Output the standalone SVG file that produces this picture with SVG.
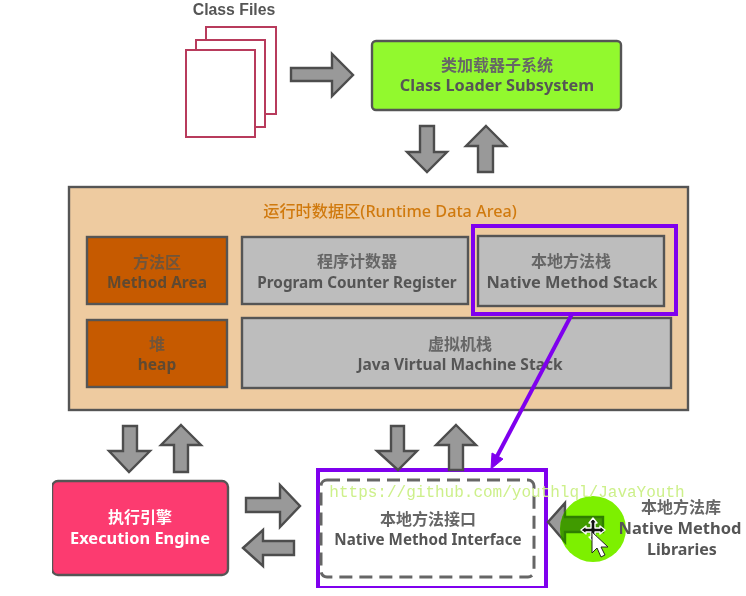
<svg xmlns="http://www.w3.org/2000/svg" width="746" height="596" viewBox="0 0 746 596">
<defs>
<filter id="soft" x="0" y="0" width="100%" height="100%"><feGaussianBlur stdDeviation="0.5"/></filter>
<clipPath id="disc"><circle cx="593" cy="529" r="33"/></clipPath>
</defs>
<style>
text{font-family:"Noto Sans","Noto Sans CJK SC",sans-serif;text-anchor:middle;font-weight:700;font-size:15.5px;fill:#555}
.cn{font-family:"Noto Sans CJK SC",sans-serif;font-size:16px;font-weight:700;fill:#666}
.arr{fill:#999;stroke:#4d4d4d;stroke-width:2.4;stroke-linejoin:miter}
.box{stroke:#555;stroke-width:2.4}
.gray{fill:#bdbdbd}
.rust{fill:#c65a00}
.page{fill:#fff;stroke:#b83a5c;stroke-width:2}
.hl{fill:none;stroke:#7f00ee;stroke-width:4}
</style>
<rect width="746" height="596" fill="#fff"/>
<g filter="url(#soft)">
<g id="class-files">
<text x="234" y="15" style="font-family:'Liberation Sans',sans-serif;font-size:15.8px">Class Files</text>
<rect class="page" x="206" y="27" width="70" height="87"/>
<rect class="page" x="196" y="40" width="69" height="87"/>
<rect class="page" x="186" y="50" width="69" height="87"/>
</g>
<g id="class-loader">
<rect class="box" x="372" y="41" width="249" height="69" rx="4" fill="#92f92f"/>
<text class="cn" x="497" y="71">类加载器子系统</text>
<text x="497" y="91" style="font-size:16.3px">Class Loader Subsystem</text>
</g>
<g id="runtime-data-area">
<rect class="box" x="69" y="187" width="619" height="223" fill="#eecba0"/>
<text x="390" y="217" style="fill:#d07a10;font-weight:500;font-size:16.2px">运行时数据区(Runtime Data Area)</text>
</g>
<g id="method-area">
<rect class="box rust" x="87" y="237" width="140" height="67"/>
<text class="cn" x="157" y="268" style="fill:#70543a">方法区</text>
<text x="157" y="288" style="fill:#5f4a30">Method Area</text>
</g>
<g id="heap">
<rect class="box rust" x="87" y="320" width="140" height="67"/>
<text class="cn" x="157" y="350" style="fill:#70543a">堆</text>
<text x="157" y="370" style="fill:#5f4a30">heap</text>
</g>
<g id="program-counter">
<rect class="box gray" x="242" y="237" width="226" height="67"/>
<text class="cn" x="357" y="267">程序计数器</text>
<text x="357" y="288" style="font-size:15.3px">Program Counter Register</text>
</g>
<g id="native-method-stack">
<rect class="box gray" x="478" y="236" width="186" height="70"/>
<text class="cn" x="571" y="267">本地方法栈</text>
<text x="572" y="288" style="font-size:16.4px">Native Method Stack</text>
<rect class="hl" x="473" y="226" width="203" height="88"/>
</g>
<g id="jvm-stack">
<rect class="box gray" x="242" y="318" width="429" height="70"/>
<text class="cn" x="460" y="350">虚拟机栈</text>
<text x="460" y="370">Java Virtual Machine Stack</text>
</g>
<g id="execution-engine">
<rect class="box" x="52" y="481" width="176" height="94" rx="6" fill="#fc3a6f"/>
<text class="cn" x="140" y="523" style="fill:#fff">执行引擎</text>
<text x="140" y="544" style="fill:#fff;font-size:16.4px">Execution Engine</text>
</g>
<g id="native-interface">
<rect x="318" y="470" width="228" height="118" fill="#fff" stroke="#7f00ee" stroke-width="4"/>
<rect x="321" y="480" width="213" height="97" rx="6" fill="none" stroke="#666" stroke-width="3" stroke-dasharray="13 7"/>
<text class="cn" x="428" y="525">本地方法接口</text>
<text x="428" y="545" style="font-size:15.2px">Native Method Interface</text>
</g>
<g id="connectors">
<path class="arr" d="M291 68H332V54L353 75L332 96V81H291Z"/>
<path class="arr" d="M420 126H434V152H447L427 172L407 152H420Z"/>
<path class="arr" d="M486 126L506 146H493V172H478V146H466Z"/>
<path class="arr" d="M123 426H137V451H150L129 472L109 451H123Z"/>
<path class="arr" d="M181 425L201 445H188V472H174V445H161Z"/>
<path class="arr" d="M246 498H280V485L300 506L280 527V512H246Z"/>
<path class="arr" d="M243 548L263 530V541H294V555H263V566Z"/>
<path class="arr" d="M391 426H404V451H417L398 470L377 451H391Z"/>
<path class="arr" d="M456 425L476 445H463V470H449V445H436Z"/>
<path d="M572 314L494 462" fill="none" stroke="#7f00ee" stroke-width="4"/>
<path d="M491 469L492 453L503 459Z" fill="#7f00ee" stroke="#7f00ee" stroke-width="1"/>
<path class="arr" d="M548 522L565 503V517H603V532H565V542Z"/>
</g>
<g id="native-libraries">
<circle cx="593" cy="529" r="33" fill="#7df000"/>
<path clip-path="url(#disc)" d="M548 522L565 503V517H603V532H565V542Z" fill="#3f9a00" stroke="#2f7d00" stroke-width="2.4"/>
<text class="cn" x="681" y="513">本地方法库</text>
<text x="680" y="534" style="font-size:16.5px">Native Method</text>
<text x="682" y="555" style="font-size:16px">Libraries</text>
</g>
</g>
<text x="507" y="497" style="font-family:'Liberation Mono',monospace;font-size:16px;font-weight:400;fill:#cdf08a">https://github.com/youthlql/JavaYouth</text>
<g id="cursor" stroke-linejoin="round">
<path d="M593 518L597 523H595V528H600V526L605 530L600 534V532H595V537H597L593 541L589 537H591V532H586V534L581 530L586 526V528H591V523H589Z" fill="#111" stroke="#fff" stroke-width="1.4"/>
<path d="M592 532V553L597 548L601 557L605 555L601 547H608Z" fill="#fff" stroke="#222" stroke-width="1"/>
</g>
</svg>
